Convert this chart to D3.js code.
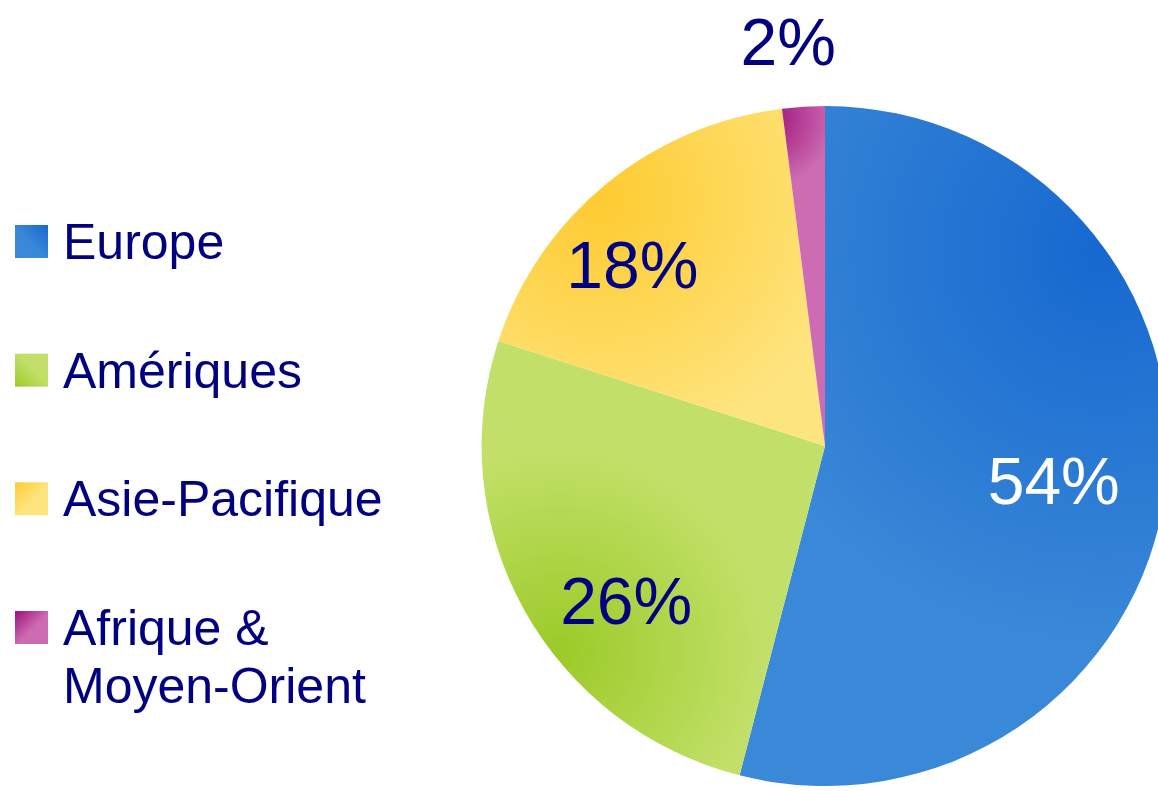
<!DOCTYPE html>
<html>
<head>
<meta charset="utf-8">
<script src="https://cdn.jsdelivr.net/npm/d3@7"></script>
<style>
  body { margin: 0; background: #fff; }
  svg { display: block; font-family: "Liberation Sans", Arial, sans-serif; }
</style>
</head>
<body>
<div id="chart"></div>
<script>
// data
const regions = ["Europe", "Amériques", "Asie-Pacifique", "Afrique & Moyen-Orient"];
const legendLines = [["Europe"], ["Amériques"], ["Asie-Pacifique"], ["Afrique &", "Moyen-Orient"]];
const shares = [54, 26, 18, 2];
const shareLabels = ["54%", "26%", "18%", "2%"];

// styles
const darkColors = ["#1668cf", "#9cca28", "#fecb30", "#9e0f78"];
const lightColors = ["#3a88d8", "#c2e069", "#fee47f", "#cd6cb2"];
const labelColors = ["#ffffff", "#000080", "#000080", "#000080"];
// where the dark spot of each slice sits: [angle deg, fraction of radius, spread]
const shadeSpots = [[55, 1.0, 1.15], [232, 0.98, 0.6], [318, 0.98, 0.75], [350, 0.98, 0.2]];
// label placement: [angle offset from mid-angle deg, fraction of radius]
const labelPos = [[1.2, 0.68], [-9, 0.74], [-7, 0.78], [-1.6, 1.195]];
// legend square gradient directions (dark corner -> light corner)
const legendDir = [[1, 0, 0, 1], [0, 1, 1, 0], [0, 0, 1, 1], [0, 0, 1, 1]];

const W = 1158, H = 791;
const cx = 825, cy = 446, R = 340;

const svg = d3.select("#chart").append("svg")
    .attr("width", W)
    .attr("height", H);

const defs = svg.append("defs");

const pie = d3.pie().sort(null).value(d => d)(shares);
const arc = d3.arc().innerRadius(0).outerRadius(R);

const toXY = (deg, r) => {
    const a = deg * Math.PI / 180;
    return [r * Math.sin(a), -r * Math.cos(a)];
};

// gradients for slices and legend squares
pie.forEach((p, i) => {
    const s = shadeSpots[i];
    const [fx, fy] = toXY(s[0], s[1] * R);
    const g = defs.append("radialGradient")
        .attr("id", "slice" + i)
        .attr("gradientUnits", "userSpaceOnUse")
        .attr("cx", fx).attr("cy", fy)
        .attr("fx", fx).attr("fy", fy)
        .attr("r", s[2] * R);
    g.append("stop").attr("offset", "0%").attr("stop-color", darkColors[i]);
    g.append("stop").attr("offset", "100%").attr("stop-color", lightColors[i]);

    const lg = defs.append("linearGradient")
        .attr("id", "leg" + i)
        .attr("x1", legendDir[i][0]).attr("y1", legendDir[i][1])
        .attr("x2", legendDir[i][2]).attr("y2", legendDir[i][3]);
    lg.append("stop").attr("offset", "0%").attr("stop-color", darkColors[i]);
    lg.append("stop").attr("offset", "55%").attr("stop-color", lightColors[i]);
    lg.append("stop").attr("offset", "100%").attr("stop-color", lightColors[i]);
});

// pie is a touch wider than tall in the original
const g = svg.append("g").attr("transform", `translate(${cx},${cy}) scale(1.01,1)`);

g.selectAll("path.slice")
    .data(pie)
    .enter().append("path")
    .attr("class", "slice")
    .attr("d", arc)
    .attr("fill", (d, i) => `url(#slice${i})`);

const labels = svg.append("g").attr("transform", `translate(${cx},${cy})`);

labels.selectAll("text.pct")
    .data(pie)
    .enter().append("text")
    .attr("class", "pct")
    .attr("transform", (d, i) => {
        const mid = (d.startAngle + d.endAngle) / 2 * 180 / Math.PI + labelPos[i][0];
        const [x, y] = toXY(mid, labelPos[i][1] * R);
        return `translate(${x},${y})`;
    })
    .attr("text-anchor", "middle")
    .attr("dy", "0.36em")
    .style("font-size", "66px")
    .style("fill", (d, i) => labelColors[i])
    .text((d, i) => shareLabels[i]);

// legend
const legend = svg.append("g").attr("transform", "translate(15,0)");
const rowY = d3.scalePoint().domain(regions).range([259, 645]);

regions.forEach((name, i) => {
    const y = rowY(name);
    legend.append("rect")
        .attr("x", 0)
        .attr("y", y - 34)
        .attr("width", 33)
        .attr("height", 33)
        .attr("fill", `url(#leg${i})`);
    const t = legend.append("text")
        .attr("x", 48)
        .attr("y", y)
        .style("font-size", "50px")
        .style("fill", "#000080");
    legendLines[i].forEach((line, j) => {
        t.append("tspan")
            .attr("x", 48)
            .attr("dy", j === 0 ? 0 : 58)
            .text(line);
    });
});
</script>
</body>
</html>
